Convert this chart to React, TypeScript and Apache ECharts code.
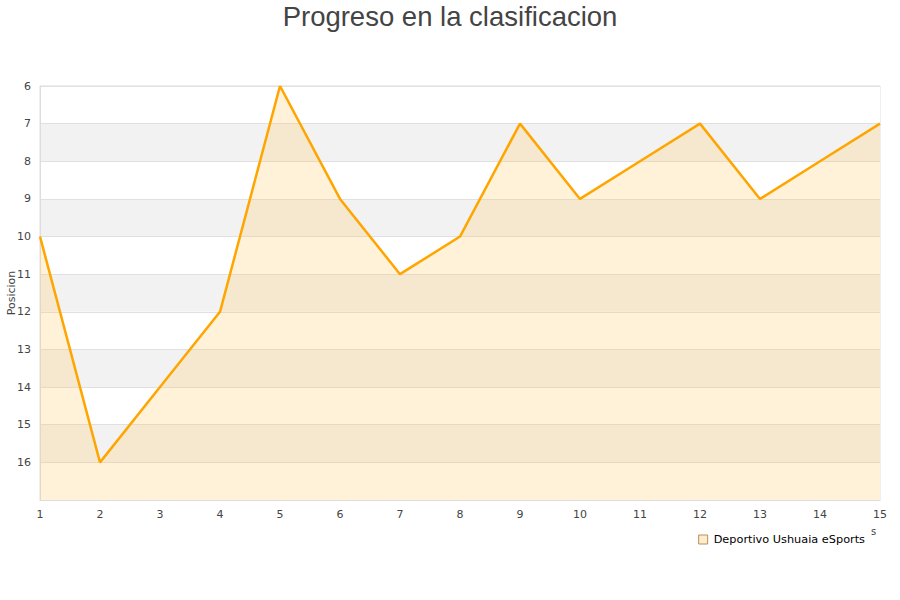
import React, { useEffect, useRef } from "react";
import * as echarts from "echarts";

const rounds = ["1", "2", "3", "4", "5", "6", "7", "8", "9", "10", "11", "12", "13", "14", "15"];
const positions = [10, 16, 14, 12, 6, 9, 11, 10, 7, 9, 8, 7, 9, 8, 7];
const teamName = "Deportivo Ushuaia eSports";
const titleText = "Progreso en la clasificacion";
const yAxisName = "Posicion";

export default function App() {
  const ref = useRef<HTMLDivElement>(null);
  useEffect(() => {
    if (!ref.current) return;
    const chart = echarts.init(ref.current, null, { renderer: "svg" });
    const font = "'DejaVu Sans', sans-serif";
    chart.setOption({
      animation: false,
      backgroundColor: "#ffffff",
      title: {
        text: titleText,
        left: "center",
        top: -3,
        textStyle: {
          fontFamily: "'Liberation Sans', Arial, sans-serif",
          fontSize: 27.5,
          fontWeight: "normal",
          color: "#444444",
        },
      },
      legend: {
        data: [teamName],
        right: 30,
        top: 529,
        icon: "rect",
        itemWidth: 9,
        itemHeight: 9,
        itemGap: 8,
        textStyle: { fontFamily: font, fontSize: 11.3, color: "#000000", padding: [0, 0, 0, 1] },
        itemStyle: { color: "#ffecc8", borderColor: "#b89060", borderWidth: 1 },
      },
      graphic: [
        {
          type: "text",
          left: 871,
          top: 526,
          style: { text: "s", fontFamily: font, fontSize: 10, fill: "#444444" },
        },
      ],
      grid: {
        left: 40,
        right: 20,
        top: 86,
        bottom: 100,
        containLabel: false,
        outerBoundsMode: "none",
        show: true,
        borderColor: "#dddddd",
        borderWidth: 1,
      },
      xAxis: {
        type: "category",
        data: rounds,
        boundaryGap: false,
        axisLine: { show: true, lineStyle: { color: "#dddddd" } },
        axisTick: { show: false },
        axisLabel: { fontFamily: font, fontSize: 11, color: "#444444", margin: 9 },
        splitLine: { show: false },
      },
      yAxis: {
        type: "value",
        inverse: true,
        min: 6,
        max: 17,
        interval: 1,
        name: yAxisName,
        nameLocation: "middle",
        nameGap: 23,
        nameMoveOverlap: false,
        nameTextStyle: { fontFamily: font, fontSize: 11, color: "#444444" },
        axisLine: { show: true, lineStyle: { color: "#dddddd" } },
        axisTick: { show: false },
        axisLabel: {
          fontFamily: font,
          fontSize: 11,
          color: "#444444",
          margin: 9,
          showMaxLabel: false,
        },
        splitLine: { show: true, lineStyle: { color: "#e0e0e0" } },
        splitArea: { show: true, areaStyle: { color: ["#ffffff", "#f2f2f2"] } },
      },
      series: [
        {
          name: teamName,
          type: "line",
          data: positions,
          showSymbol: false,
          symbol: "none",
          lineStyle: { color: "#ffa500", width: 2.5 },
          itemStyle: { color: "#ffecc8", borderColor: "#b89060" },
          areaStyle: { color: "rgba(255,200,100,0.35)", origin: "end" },
        },
      ],
    });
    return () => chart.dispose();
  }, []);
  return (
    <div
      ref={ref}
      style={{ position: "fixed", left: 0, top: 0, width: 900, height: 600 }}
    />
  );
}
